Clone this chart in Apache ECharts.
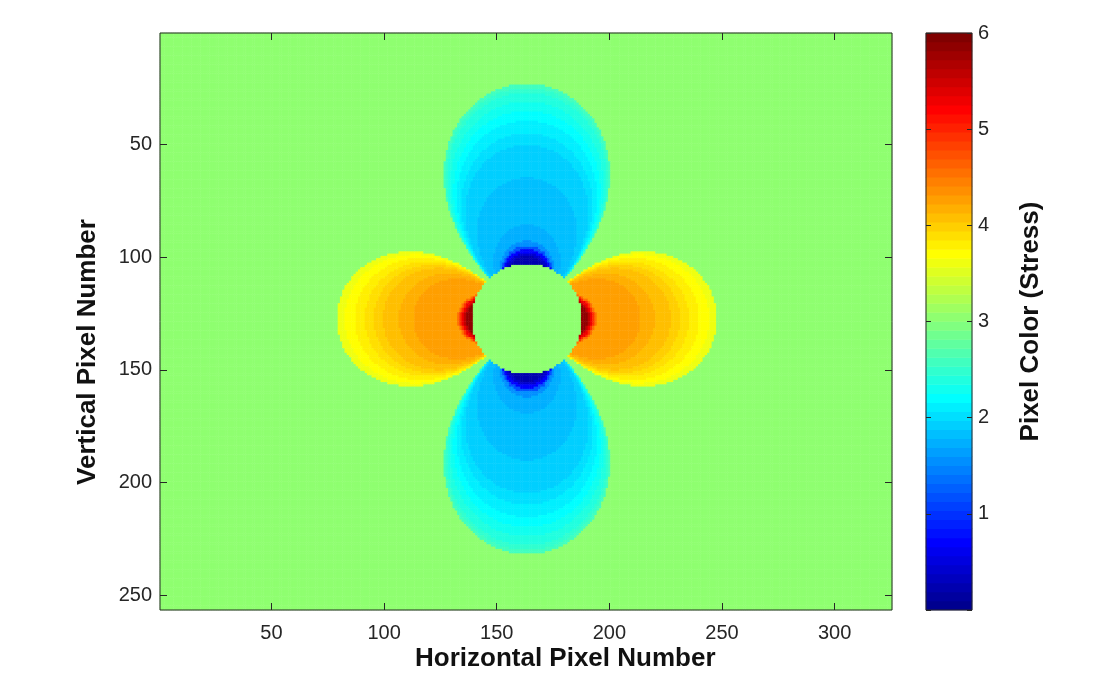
<!DOCTYPE html>
<html>
<head>
<meta charset="utf-8">
<script src="https://cdn.jsdelivr.net/npm/echarts@6/dist/echarts.min.js"></script>
<style>
  html, body { margin: 0; padding: 0; background: #ffffff; }
  #chart { width: 1102px; height: 691px; }
</style>
</head>
<body>
<div id="chart"></div>
<script>
// Image grid (pixels)
const imageWidth = 325;
const imageHeight = 256;

// Circular hole in the plate (pixel coordinates)
const holeCenter = [163.5, 127.5];
const holeRadius = 24.5;

// Far-field stress shown everywhere outside the lobes and inside the hole
const backgroundStress = 3;

// Horizontal lobes (stress concentration): reach of each colour band along the lobe axis
const highBandReach  = [84.5, 80.9, 76.4, 72, 68, 63.9, 57, 50.5, 31, 30, 29, 28, 27];
const highBandStress = [3.61, 3.70, 3.80, 3.89, 3.98, 4.08, 4.17, 4.27, 4.55, 4.92, 5.30, 5.58, 5.86];

// Vertical lobes (stress relief): reach of each colour band along the lobe axis
const lowBandReach  = [104.4, 102.5, 100.4, 96.5, 92.4, 88, 82.5, 77.3, 62.7, 41.8, 34.7, 32.5, 31, 29.5, 28];
const lowBandStress = [2.58, 2.48, 2.39, 2.30, 2.20, 2.11, 2.02, 1.92, 1.83, 1.73, 1.55, 1.17, 0.70, 0.42, 0.23];

// Tick labels
const xTickLabels = [50, 100, 150, 200, 250, 300];
const yTickLabels = [50, 100, 150, 200, 250];
const colorbarTicks = [1, 2, 3, 4, 5, 6];
const stressRange = [0, 6];

// MATLAB-style 64-level jet colour map
function jetColors(m) {
  const n = Math.ceil(m / 4);
  const u = [];
  for (let k = 1; k <= n; k++) u.push(k / n);
  for (let k = 1; k < n; k++) u.push(1);
  for (let k = n; k >= 1; k--) u.push(k / n);
  const at = (j) => (j >= 0 && j < u.length ? u[j] : 0);
  const off = Math.ceil(n / 2) - (m % 4 === 1 ? 1 : 0);
  const cols = [];
  for (let k = 1; k <= m; k++) {
    const g = at(k - off - 1);
    const r = at(k - off - n - 1);
    const b = at(k - off + n - 1);
    const h = (x) => Math.round(x * 255).toString(16).padStart(2, '0');
    cols.push('#' + h(r) + h(g) + h(b));
  }
  return cols;
}
const jet = jetColors(64);
const step = (stressRange[1] - stressRange[0]) / jet.length;
const pieces = jet.map((c, k) => k === jet.length - 1
  ? { gte: stressRange[0] + k * step, lte: stressRange[1], color: c }
  : { gte: stressRange[0] + k * step, lt: stressRange[0] + (k + 1) * step, color: c });

// Stress at a pixel: each band outline is a lemniscate through the hole centre,
// so a pixel belongs to the band whose axial reach covers the lemniscate through it.
function stressAt(i, j) {
  const dx = i - holeCenter[0];
  const dy = j - holeCenter[1];
  const r2 = dx * dx + dy * dy;
  if (r2 < holeRadius * holeRadius) return backgroundStress;
  const c2 = (dx * dx - dy * dy) / r2;
  if (c2 === 0) return backgroundStress;
  const reach = Math.sqrt(r2 / Math.abs(c2));
  const reachList = c2 > 0 ? highBandReach : lowBandReach;
  const stressList = c2 > 0 ? highBandStress : lowBandStress;
  let v = backgroundStress;
  for (let k = 0; k < reachList.length; k++) {
    if (reach <= reachList[k]) v = stressList[k];
  }
  return v;
}

const xCats = [];
for (let i = 1; i <= imageWidth; i++) xCats.push(String(i));
const yCats = [];
for (let j = 1; j <= imageHeight; j++) yCats.push(String(j));

const fieldData = [];
for (let j = 1; j <= imageHeight; j++) {
  for (let i = 1; i <= imageWidth; i++) {
    fieldData.push([i - 1, j - 1, stressAt(i, j)]);
  }
}

// Colour bar cells: one per colour level
const barCats = jet.map((c, k) => String(k));
const barData = jet.map((c, k) => [0, k, stressRange[0] + (k + 0.5) * step]);

const ink = '#262626';
const tickFont = { fontFamily: 'Liberation Sans, Arial, sans-serif', fontSize: 20, color: ink };
const xTickShown = (idx, val) => xTickLabels.indexOf(+val) >= 0;
const yTickShown = (idx, val) => yTickLabels.indexOf(+val) >= 0;

const chart = echarts.init(document.getElementById('chart'), null, { renderer: 'canvas' });
chart.setOption({
  animation: false,
  backgroundColor: '#ffffff',
  grid: [
    { left: 160, top: 33, width: 732, height: 577, show: true, borderColor: ink, borderWidth: 1, backgroundColor: 'transparent', z: 3 },
    { left: 926, top: 33, width: 46, height: 577, show: true, borderColor: ink, borderWidth: 1, backgroundColor: 'transparent', z: 3 }
  ],
  xAxis: [
    { type: 'category', data: xCats, gridIndex: 0, position: 'bottom',
      axisLine: { show: false },
      axisTick: { show: true, inside: true, length: 7, alignWithLabel: true, interval: xTickShown, lineStyle: { color: ink } },
      axisLabel: Object.assign({ interval: xTickShown, margin: 13 }, tickFont),
      splitLine: { show: false }, z: 4 },
    { type: 'category', data: xCats, gridIndex: 0, position: 'top',
      axisLine: { show: false },
      axisTick: { show: true, inside: true, length: 7, alignWithLabel: true, interval: xTickShown, lineStyle: { color: ink } },
      axisLabel: { show: false }, splitLine: { show: false }, z: 4 },
    { type: 'category', data: ['0'], gridIndex: 1, show: false }
  ],
  yAxis: [
    { type: 'category', data: yCats, gridIndex: 0, inverse: true, position: 'left',
      axisLine: { show: false },
      axisTick: { show: true, inside: true, length: 7, alignWithLabel: true, interval: yTickShown, lineStyle: { color: ink } },
      axisLabel: Object.assign({ interval: yTickShown, margin: 8 }, tickFont),
      splitLine: { show: false }, z: 4 },
    { type: 'category', data: yCats, gridIndex: 0, inverse: true, position: 'right',
      axisLine: { show: false },
      axisTick: { show: true, inside: true, length: 7, alignWithLabel: true, interval: yTickShown, lineStyle: { color: ink } },
      axisLabel: { show: false }, splitLine: { show: false }, z: 4 },
    { type: 'category', data: barCats, gridIndex: 1, show: false, position: 'left' },
    { type: 'value', gridIndex: 1, position: 'right', min: stressRange[0], max: stressRange[1], interval: 1,
      axisLine: { show: false },
      axisTick: { show: true, inside: true, length: 5, lineStyle: { color: ink } },
      axisLabel: Object.assign({ margin: 6, formatter: (v) => (colorbarTicks.indexOf(v) >= 0 ? String(v) : '') }, tickFont),
      splitLine: { show: false },
      name: 'Pixel Color (Stress)', nameLocation: 'middle', nameRotate: 90, nameGap: 46,
      nameTextStyle: { fontFamily: 'Liberation Sans, Arial, sans-serif', fontSize: 26, fontWeight: 'bold', color: '#111111' },
      z: 4 },
    { type: 'value', gridIndex: 1, position: 'left', min: stressRange[0], max: stressRange[1], interval: 1,
      axisLine: { show: false },
      axisTick: { show: true, inside: true, length: 5, lineStyle: { color: ink } },
      axisLabel: { show: false }, splitLine: { show: false }, z: 4 }
  ],
  visualMap: {
    type: 'piecewise', show: false, dimension: 2, seriesIndex: [0, 1], pieces: pieces
  },
  series: [
    { type: 'heatmap', name: 'Stress', xAxisIndex: 0, yAxisIndex: 0, data: fieldData,
      progressive: 0, emphasis: { disabled: true }, itemStyle: { borderWidth: 0 } },
    { type: 'heatmap', name: 'Colour bar', xAxisIndex: 2, yAxisIndex: 2, data: barData,
      progressive: 0, emphasis: { disabled: true }, itemStyle: { borderWidth: 0 } }
  ],
  graphic: [
    { type: 'text', left: 415, top: 646, style: { text: 'Horizontal Pixel Number', fill: '#111111',
      font: 'bold 26px "Liberation Sans", Arial, sans-serif' } },
    { type: 'text', x: 88, y: 352, rotation: Math.PI / 2, style: { text: 'Vertical Pixel Number', fill: '#111111',
      font: 'bold 26px "Liberation Sans", Arial, sans-serif', align: 'center', verticalAlign: 'middle' } }
  ]
});
</script>
</body>
</html>
